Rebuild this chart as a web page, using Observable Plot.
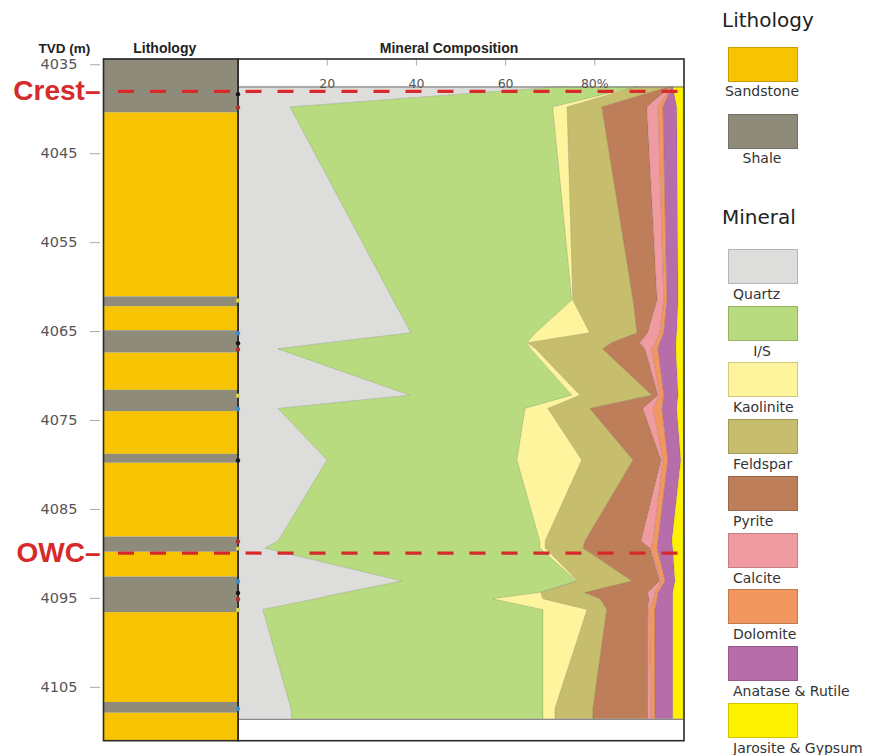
<!DOCTYPE html>
<html><head><meta charset="utf-8">
<script src="https://cdn.jsdelivr.net/npm/d3@7"></script>
<script src="https://cdn.jsdelivr.net/npm/@observablehq/plot@0.6"></script>
<style>
body{margin:0;background:#fff;}
#wrap{position:relative;width:880px;height:755px;overflow:hidden;font-family:"DejaVu Sans",sans-serif;}
#wrap svg{position:absolute;top:0;}
</style></head><body><div id="wrap"></div>
<script>
// ---- data ----
const depth = [4037.5, 4039.8, 4061.5, 4065.2, 4066.3, 4067.0, 4072.2, 4073.7, 4079.5, 4088.6, 4089.4, 4093.1, 4094.4, 4095.1, 4096.3, 4107.4, 4108.6];
const quartz    = [73.0, 11.8, 34.9, 38.9, 20.3,  9.1, 38.7,  9.1, 20.1,  9.1,  6.2, 36.9, 23.9, 17.6,  5.7, 12.0, 12.2];
const illSmec   = [16.6, 58.9, 40.1, 28.0, 44.6, 56.7, 36.3, 55.4, 42.6, 58.7, 61.6, 39.2, 43.9, 39.7, 62.8, 56.5, 56.3];
const kaolinite = [ 0.0,  3.2,  0.2, 12.1,  0.2,  1.1,  1.8,  5.1, 14.5,  1.2,  1.2,  0.2,  0.2, 11.2,  9.9,  2.7,  2.7];
const feldspar  = [ 7.4,  7.8, 13.5, 10.6, 18.8, 15.0, 16.1,  9.4, 11.5,  8.9,  8.5, 12.2,  9.9, 12.8,  4.4,  8.5,  8.5];
const pyrite    = [ 0.2, 10.1,  5.4,  2.4,  6.3,  9.5,  1.4, 11.9,  6.3, 12.6, 15.0,  6.2, 14.1, 11.0,  9.2, 12.3, 12.3];
const calcite   = [ 0.1,  2.5,  1.5,  2.7,  3.6,  1.5,  0.4,  2.3,  0.4,  2.7,  0.2,  0.3,  1.6,  1.1,  0.3,  0.7,  0.7];
const dolomite  = [ 0.1,  1.1,  0.7,  0.9,  0.9,  1.4,  0.9,  2.0,  1.1,  1.1,  1.4,  0.9,  0.7,  0.7,  1.3,  0.9,  0.9];
const anatase   = [ 0.2,  3.1,  2.5,  2.9,  3.6,  4.0,  3.2,  3.3,  2.9,  3.1,  3.5,  2.2,  3.3,  3.5,  4.0,  4.0,  4.0];
const jarosite  = [ 2.3,  1.4,  1.1,  1.4,  1.6,  1.6,  1.1,  1.4,  0.7,  2.5,  2.3,  1.8,  2.3,  2.3,  2.3,  2.3,  2.3];

const minerals = ["Quartz", "I/S", "Kaolinite", "Feldspar", "Pyrite", "Calcite", "Dolomite", "Anatase & Rutile", "Jarosite & Gypsum"];
const mineralValues = [quartz, illSmec, kaolinite, feldspar, pyrite, calcite, dolomite, anatase, jarosite];
const mineralColors = ["#DDDDDC", "#B7DB7E", "#FFF49E", "#C6BE6C", "#BD7E59", "#F09BA1", "#F1975F", "#B76DAA", "#FFF200"];

const lithoNames = ["Sandstone", "Shale"];
const lithoColors = ["#F8C300", "#8F8B7B"];
const lithoTops  = [4034.35, 4040.4, 4061.1, 4062.2, 4064.9, 4067.4, 4071.6, 4074.0, 4078.8, 4079.8, 4088.1, 4089.8, 4092.6, 4096.6, 4106.7, 4107.9];
const lithoTypes = ["Shale", "Sandstone", "Shale", "Sandstone", "Shale", "Sandstone", "Shale", "Sandstone", "Shale", "Sandstone", "Shale", "Sandstone", "Shale", "Sandstone", "Shale", "Sandstone"];
const lithoBase = 4111;

const sampleDepth  = [4038.3, 4039.8, 4061.5, 4065.2, 4066.3, 4067.0, 4072.2, 4073.7, 4079.5, 4088.6, 4089.4, 4093.1, 4094.4, 4095.1, 4096.3, 4107.4];
const sampleMarker = ["k", "r", "y", "b", "k", "r", "y", "b", "k", "r", "y", "b", "k", "r", "y", "b"];
const markerKeys = ["k", "r", "y", "b"];
const markerColors = ["#151515", "#B3302F", "#D9D44C", "#3D8FCB"];

const contactNames = ["Crest–", "OWC–"];
const contactDepths = [4038.0, 4089.9];

const depthTicks = [4035, 4045, 4055, 4065, 4075, 4085, 4095, 4105];
const pctTicks = [20, 40, 60, 80];
const pctLabels = ["20", "40", "60", "80%"];
const depthDomain = [4034.35, 4111];

// ---- tables built from the arrays ----
const rows = [];
depth.forEach((d, i) => minerals.forEach((m, j) => rows.push({depth: d, mineral: m, value: mineralValues[j][i]})));
const litho = lithoTops.map((t, i) => ({top: t, base: i < lithoTops.length - 1 ? lithoTops[i + 1] : lithoBase, type: lithoTypes[i]}));
const samples = sampleDepth.map((d, i) => ({depth: d, marker: sampleMarker[i]}));
const contacts = contactNames.map((n, i) => ({label: n, depth: contactDepths[i]}));

const RED = "#D62A2B";
const H = 755, MT = 58.5, MB = 14.8;

const p1 = Plot.plot({
  width: 238, height: H, marginLeft: 103, marginRight: 0.5, marginTop: MT, marginBottom: MB,
  style: {background: "transparent", overflow: "visible", fontFamily: "DejaVu Sans"},
  x: {domain: [0, 1], axis: null},
  y: {domain: depthDomain, reverse: true},
  color: {domain: markerKeys, range: markerColors},
  marks: [
    Plot.rect(litho.filter(d => d.type === lithoNames[0]), {y1: "top", y2: "base", fill: lithoColors[0]}),
    Plot.rect(litho.filter(d => d.type === lithoNames[1]), {y1: "top", y2: "base", fill: lithoColors[1]}),
    Plot.axisY(depthTicks, {anchor: "left", tickSize: 10, dx: -3, tickPadding: 13, fontSize: 14.5, fill: "#555", stroke: "#aaa", tickFormat: d => String(d), label: null}),
    Plot.ruleY(contacts, {y: "depth", stroke: RED, strokeWidth: 3.2, strokeDasharray: "16,16", strokeDashoffset: -15}),
    Plot.text(contacts, {y: "depth", text: "label", frameAnchor: "left", textAnchor: "end", dx: -3, fontSize: 28, fontWeight: "bold", fontFamily: "Liberation Sans", fill: RED}),
    Plot.frame({stroke: "#2a2a2a", strokeWidth: 1.6}),
    Plot.dot(samples, {y: "depth", fill: "marker", frameAnchor: "right", r: 2.2}),
    Plot.text(["TVD (m)"], {frameAnchor: "top-left", textAnchor: "start", dx: -65, dy: -15.5, fontSize: 13.5, fontWeight: "bold", fontFamily: "Liberation Sans", fill: "#222"}),
    Plot.text(["Lithology"], {frameAnchor: "top", dx: -6, dy: -16, fontSize: 14, fontWeight: "bold", fontFamily: "Liberation Sans", fill: "#222"})
  ]
});

const p2 = Plot.plot({
  width: 650, height: H, marginLeft: 7.5, marginRight: 196.5, marginTop: MT, marginBottom: MB,
  style: {background: "transparent", overflow: "visible", fontFamily: "DejaVu Sans"},
  x: {domain: [0, 100]},
  y: {domain: depthDomain, reverse: true, axis: null},
  color: {domain: minerals, range: mineralColors},
  marks: [
    Plot.areaX(rows, Plot.stackX({y: "depth", x: "value", fill: "mineral", order: minerals, stroke: "#000", strokeOpacity: 0.16, strokeWidth: 0.6})),
    Plot.ruleY([d3.min(depth), d3.max(depth)], {stroke: "#777", strokeWidth: 1}),
    Plot.axisX(pctTicks, {anchor: "top", tickSize: 6, dy: 6, stroke: "#aaa", tickFormat: () => "", label: null}),
    Plot.text(pctTicks, {x: d => d, text: (d, i) => pctLabels[i], frameAnchor: "top", dy: 20, fontSize: 12.5, fill: "#555"}),
    Plot.ruleY(contacts, {y: "depth", stroke: RED, strokeWidth: 3.2, strokeDasharray: "16,16", strokeDashoffset: -8}),
    Plot.frame({stroke: "#2a2a2a", strokeWidth: 1.6}),
    Plot.text(["Mineral Composition"], {frameAnchor: "top", dx: -12, dy: -16, fontSize: 14, fontWeight: "bold", fontFamily: "Liberation Sans", fill: "#222"})
  ]
});

const wrap = document.getElementById("wrap");
p2.style.left = "230px"; p2.style.zIndex = 1;
p1.style.left = "0px"; p1.style.zIndex = 2;
wrap.appendChild(p2);
wrap.appendChild(p1);

// ---- legend ----
function addDiv(text, css) {
  const el = document.createElement("div");
  el.textContent = text;
  Object.assign(el.style, {position: "absolute", whiteSpace: "nowrap", color: "#333"}, css);
  wrap.appendChild(el);
  return el;
}
function swatch(color, top) {
  addDiv("", {left: "728px", top: top + "px", width: "68px", height: "33px", background: color, border: "1px solid rgba(0,0,0,0.18)"});
}
addDiv("Lithology", {left: "722px", top: "7px", fontSize: "20px", lineHeight: "26px", color: "#222"});
lithoNames.forEach((n, i) => {
  const top = 47 + i * 67;
  swatch(lithoColors[i], top);
  addDiv(n, {left: "712px", width: "100px", textAlign: "center", top: (top + 36) + "px", fontSize: "14px", lineHeight: "16px"});
});
addDiv("Mineral", {left: "722px", top: "204px", fontSize: "20px", lineHeight: "26px", color: "#222"});
minerals.forEach((m, i) => {
  const top = 249 + i * 56.7;
  swatch(mineralColors[i], top);
  const css = {top: (top + 37) + "px", fontSize: "14px", lineHeight: "16px"};
  if (m.length < 4) Object.assign(css, {left: "712px", width: "100px", textAlign: "center"});
  else css.left = "733px";
  addDiv(m, css);
});
</script>
</body></html>
